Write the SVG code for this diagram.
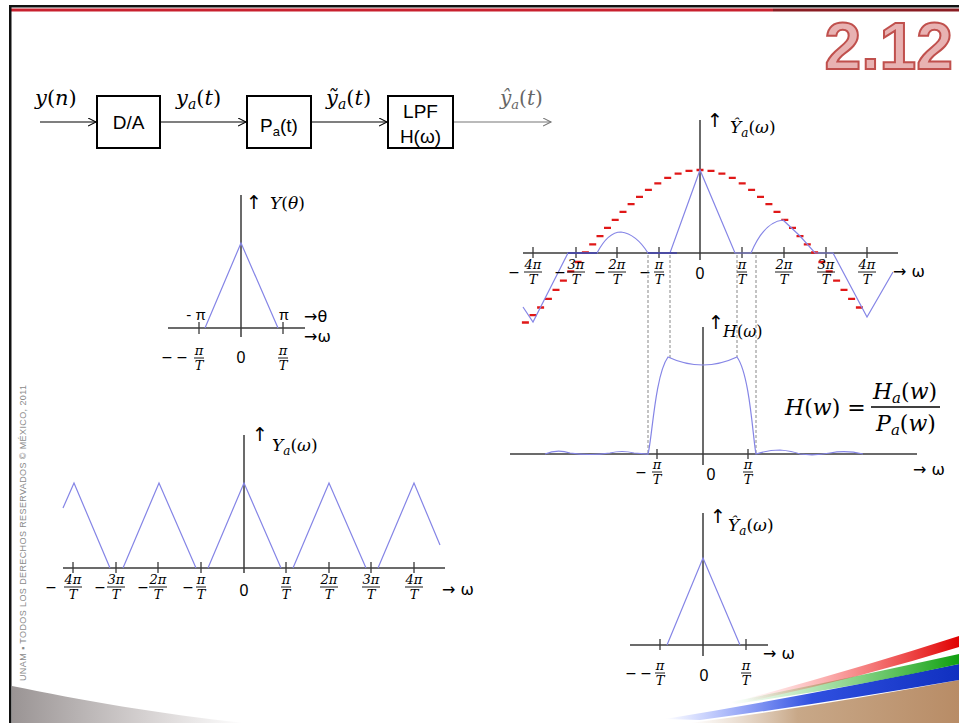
<svg xmlns="http://www.w3.org/2000/svg" width="959" height="723" viewBox="0 0 959 723">
<style>
.ax{stroke:#3a3a3a;stroke-width:1.5;fill:none}
.tk{stroke:#3a3a3a;stroke-width:1.3}
.sig{stroke:#8585e6;stroke-width:1.2;fill:none}
.box{fill:#fff;stroke:#000;stroke-width:2}
.ln{stroke:#000;stroke-width:1.2;fill:none}
.sn{font-family:"Liberation Sans",Arial,sans-serif;fill:#000}
.m{font-family:"DejaVu Serif",serif;fill:#000}
.i{font-style:italic}
.fr{font-family:"DejaVu Serif",serif;font-style:italic;font-size:13px;text-anchor:middle;fill:#000}
.fb{stroke:#000;stroke-width:0.9}
.mn{font-family:"DejaVu Serif",serif;font-size:14px;text-anchor:middle;fill:#000}
.z{font-family:"Liberation Sans",Arial,sans-serif;font-size:16px;text-anchor:middle;fill:#000}
.up{font-family:"DejaVu Sans",sans-serif;font-size:19px;fill:#000}
.ar{font-family:"DejaVu Sans",sans-serif;font-size:16px;fill:#000}
.dl{stroke:#555;stroke-width:0.7;stroke-dasharray:3 2;fill:none}
</style>
<defs>
<marker id="ah" markerWidth="10" markerHeight="10" refX="8" refY="4" orient="auto" markerUnits="userSpaceOnUse"><path d="M0,0 L8,4 L0,8" fill="none" stroke="#000" stroke-width="1.1"/></marker>
<marker id="ahg" markerWidth="10" markerHeight="10" refX="8" refY="4" orient="auto" markerUnits="userSpaceOnUse"><path d="M0,0 L8,4 L0,8" fill="none" stroke="#777" stroke-width="1.1"/></marker>
<g id="f1"><text class="fr" y="-3">π</text><path class="fb" d="M-5,0h10"/><text class="fr" y="12">T</text></g>
<g id="f2"><text class="fr" y="-3">2π</text><path class="fb" d="M-9,0h18"/><text class="fr" y="12">T</text></g>
<g id="f3"><text class="fr" y="-3">3π</text><path class="fb" d="M-9,0h18"/><text class="fr" y="12">T</text></g>
<g id="f4"><text class="fr" y="-3">4π</text><path class="fb" d="M-9,0h18"/><text class="fr" y="12">T</text></g>
<linearGradient id="gl" x1="0" x2="1" y1="0" y2="0"><stop offset="0" stop-color="#9a9494"/><stop offset="0.6" stop-color="#d8d4d4"/><stop offset="1" stop-color="#fff"/></linearGradient>
<linearGradient id="gr" x1="0" x2="1" y1="0" y2="0"><stop offset="0" stop-color="#ff4040" stop-opacity="0"/><stop offset="1" stop-color="#e00000"/></linearGradient>
<linearGradient id="gg" x1="0" x2="1" y1="0" y2="0"><stop offset="0" stop-color="#40c040" stop-opacity="0"/><stop offset="1" stop-color="#10a010"/></linearGradient>
<linearGradient id="gb" x1="0" x2="1" y1="0" y2="0"><stop offset="0" stop-color="#4060ff" stop-opacity="0"/><stop offset="0.5" stop-color="#3050e0"/><stop offset="1" stop-color="#1030c0"/></linearGradient>
<linearGradient id="gt" x1="0" x2="1" y1="0" y2="0"><stop offset="0" stop-color="#d8c0a8" stop-opacity="0"/><stop offset="0.4" stop-color="#c8a888"/><stop offset="1" stop-color="#b88c66"/></linearGradient>
</defs>

<g id="frame">
<rect x="9" y="5" width="950" height="2.5" fill="#111"/>
<rect x="10" y="8.5" width="763" height="3" fill="#c8202e"/>
<rect x="773" y="8.5" width="186" height="3" fill="#8a1c22"/>
<rect x="9" y="5" width="2.5" height="718" fill="#111"/>
<path d="M12,686 C80,700 160,714 245,723 L12,723 Z" fill="url(#gl)"/>
<path d="M690,723 Q820,706 959,680 L959,723 Z" fill="url(#gt)"/>
<path d="M665,719 Q810,695 959,664 L959,680 Q820,704 700,720 Z" fill="url(#gb)"/>
<path d="M730,702 Q850,678 959,654 L959,664 Q850,688 735,704 Z" fill="url(#gg)"/>
<path d="M745,699 Q860,668 959,636 L959,647 Q860,678 750,701 Z" fill="url(#gr)"/>
<text transform="translate(26,681) rotate(-90)" font-family="Liberation Sans,Arial,sans-serif" font-size="9" fill="#8a8a8a" textLength="296" lengthAdjust="spacing">UNAM ▪ TODOS LOS DERECHOS RESERVADOS © MÉXICO, 2011</text>
<text x="953" y="69" text-anchor="end" font-family="Liberation Sans,Arial,sans-serif" font-weight="bold" font-size="66" fill="#e8b2b2" stroke="#c0504d" stroke-width="2">2.12</text>
</g>

<g id="connectors">
<line class="ln" x1="40" y1="122" x2="96" y2="122" marker-end="url(#ah)"/>
<line class="ln" x1="160" y1="122" x2="246" y2="122" marker-end="url(#ah)"/>
<line class="ln" x1="311" y1="122" x2="387" y2="122" marker-end="url(#ah)"/>
<line x1="453" y1="122" x2="551" y2="122" stroke="#777" stroke-width="1.2" marker-end="url(#ahg)"/>
</g>

<g id="lbl-yn"><text class="m" x="35" y="105" font-size="21"><tspan class="i">y</tspan>(<tspan class="i">n</tspan>)</text></g>
<g id="node-da"><rect class="box" x="97" y="96" width="63" height="52"/><text class="sn" x="128.5" y="129" font-size="19" text-anchor="middle">D/A</text></g>
<g id="lbl-ya"><text class="m" x="176" y="105" font-size="21"><tspan class="i">y</tspan><tspan class="i" font-size="14" dy="4">a</tspan><tspan dy="-4">(</tspan><tspan class="i">t</tspan>)</text></g>
<g id="node-pa"><rect class="box" x="247" y="96" width="64" height="52"/><text class="sn" x="279" y="132" font-size="19" text-anchor="middle">P<tspan font-size="13" dy="4">a</tspan><tspan dy="-4">(t)</tspan></text></g>
<g id="lbl-yt"><text class="m" x="326" y="105" font-size="21"><tspan class="i">ỹ</tspan><tspan class="i" font-size="14" dy="4">a</tspan><tspan dy="-4">(</tspan><tspan class="i">t</tspan>)</text></g>
<g id="node-lpf"><rect class="box" x="388" y="96" width="65" height="52"/><text class="sn" x="420.5" y="118" font-size="19" text-anchor="middle">LPF</text><text class="sn" x="420.5" y="143" font-size="19" text-anchor="middle">H(ω)</text></g>
<g id="lbl-yh"><text class="m" x="500" y="105" font-size="20" style="fill:#666"><tspan class="i">ŷ</tspan><tspan class="i" font-size="13" dy="4">a</tspan><tspan dy="-4">(</tspan><tspan class="i">t</tspan>)</text></g>

<g id="plot-Ytheta">
<line class="ax" x1="241" y1="195" x2="241" y2="337"/>
<line class="ax" x1="168" y1="328" x2="305" y2="328"/>
<path class="tk" d="M199,322v12 M283,322v12"/>
<polyline class="sig" points="205,328 241,243 278,328"/>
<text class="up" x="246" y="209">↑</text>
<text class="m" x="270" y="209" font-size="17"><tspan class="i">Y</tspan>(<tspan class="i">θ</tspan>)</text>
<text class="sn" x="196" y="320" font-size="15" text-anchor="middle">- π</text>
<text class="sn" x="284" y="320" font-size="15" text-anchor="middle">π</text>
<text class="ar" x="304" y="322" font-size="12">→θ</text>
<text class="ar" x="304" y="342" font-size="12">→ω</text>
<text class="mn" x="167" y="362">−</text><text class="mn" x="182" y="362">−</text>
<use href="#f1" x="199" y="358"/>
<text class="z" x="241" y="363">0</text>
<use href="#f1" x="283" y="358"/>
</g>

<g id="plot-Ya">
<line class="ax" x1="244" y1="435" x2="244" y2="573"/>
<line class="ax" x1="63" y1="568" x2="445" y2="568"/>
<path class="tk" d="M73,562v11 M116,562v11 M158,562v11 M201,562v11 M286,562v11 M329,562v11 M371,562v11 M414,562v11"/>
<polyline class="sig" points="63,508 74,483 110,568"/>
<polyline class="sig" points="123,568 159,483 196,568"/>
<polyline class="sig" points="208,568 244,483 281,568"/>
<polyline class="sig" points="293,568 329,483 366,568"/>
<polyline class="sig" points="378,568 414,483 440,545"/>
<text class="up" x="252" y="441">↑</text>
<text class="m" x="272" y="451" font-size="17"><tspan class="i">Y</tspan><tspan class="i" font-size="12" dy="4">a</tspan><tspan dy="-4">(</tspan><tspan class="i">ω</tspan>)</text>
<text class="mn" x="51" y="592">−</text><use href="#f4" x="73" y="587"/>
<text class="mn" x="100" y="592">−</text><use href="#f3" x="116" y="587"/>
<text class="mn" x="143" y="592">−</text><use href="#f2" x="158" y="587"/>
<text class="mn" x="188" y="592">−</text><use href="#f1" x="201" y="587"/>
<text class="z" x="244" y="596">0</text>
<use href="#f1" x="286" y="587"/><use href="#f2" x="329" y="587"/><use href="#f3" x="371" y="587"/><use href="#f4" x="414" y="587"/>
<text class="ar" x="442" y="595">→ ω</text>
</g>

<g id="plot-Yhat-top">
<line class="ax" x1="700" y1="120" x2="700" y2="260"/>
<line class="ax" x1="523" y1="253" x2="898" y2="253"/>
<path class="tk" d="M533,247v11 M576,247v11 M617,247v11 M659,247v11 M742,247v11 M784,247v11 M826,247v11 M867,247v11"/>
<path fill="none" stroke="#e01818" stroke-width="2.3" d="M696.5,170h7 M707.5,170.9h7 M718.4,173.7h7 M728.8,177.9h7 M738.7,183.4h7 M748.1,189.8h7 M757,196.8h7 M765.4,204.2h7 M773.5,211.8h7 M781.3,219.8h7 M789,227.9h7 M796.5,236.1h7 M803.8,244.3h7 M811.1,252.5h7 M818.4,262h7 M825.7,271.4h7 M833.1,280.7h7 M840.5,289.8h7 M848.1,298.8h7 M855.9,307.5h7 M685.5,170.9h7 M674.6,173.7h7 M664.2,177.9h7 M654.3,183.4h7 M644.9,189.8h7 M636,196.8h7 M627.6,204.2h7 M619.5,211.8h7 M611.7,219.8h7 M604,227.9h7 M596.5,236.1h7 M589.2,244.3h7 M581.9,252.5h7 M574.6,262h7 M567.3,271.4h7 M559.9,280.7h7 M552.5,289.8h7 M544.9,298.8h7 M537.1,307.5h7 M529.5,315.2h7 M521.9,322.5h7"/>
<path class="sig" d="M523,307 L533,322 L568,253 L597,253 Q608,232 621,232 Q636,234 648,253 L670,253 L700,170 L735,253 L751,253 Q764,222 783,220 L800,236 L815,253 L833,253 L867,317 L893,272"/>
<line x1="648" y1="253" x2="677" y2="253" stroke="#4040a0" stroke-width="1.6"/>
<line x1="568" y1="253" x2="597" y2="253" stroke="#4040a0" stroke-width="1.6"/>
<text class="up" x="707" y="127">↑</text>
<text class="m" x="730" y="133" font-size="17"><tspan class="i">Ŷ</tspan><tspan class="i" font-size="12" dy="4">a</tspan><tspan dy="-4">(</tspan><tspan class="i">ω</tspan>)</text>
<text class="mn" x="514" y="277">−</text><use href="#f4" x="533" y="272"/>
<text class="mn" x="560" y="277">−</text><use href="#f3" x="576" y="272"/>
<text class="mn" x="600" y="277">−</text><use href="#f2" x="617" y="272"/>
<text class="mn" x="645" y="277">−</text><use href="#f1" x="659" y="272"/>
<text class="z" x="700" y="279">0</text>
<use href="#f1" x="742" y="272"/><use href="#f2" x="784" y="272"/><use href="#f3" x="826" y="272"/><use href="#f4" x="867" y="272"/>
<text class="ar" x="893" y="277">→ ω</text>
</g>

<g id="guides">
<path class="dl" d="M648,255V454 M670,255V358 M737,255V357 M756,255V454"/>
</g>

<g id="plot-H">
<line class="ax" x1="703" y1="327" x2="703" y2="465"/>
<line class="ax" x1="510" y1="454" x2="917" y2="454"/>
<path class="tk" d="M657,449v10 M748,449v10"/>
<path class="sig" d="M545,454 Q557,449 570,453 Q590,456 610,453 Q622,450 634,453 L648,454 C652,440 655,375 668,357 Q685,365 703,365 Q720,365 737,357 C750,375 753,440 756,454 Q768,450 780,450 Q792,451 800,454 Q815,456 830,453 Q846,450 863,454"/>
<text class="up" x="708" y="329">↑</text>
<text class="m" x="723" y="337" font-size="16"><tspan class="i">H</tspan>(<tspan class="i">ω</tspan>)</text>
<text class="mn" x="641" y="477">−</text><use href="#f1" x="657" y="472"/>
<text class="z" x="711" y="480">0</text>
<use href="#f1" x="748" y="472"/>
<text class="ar" x="913" y="475">→ ω</text>
<text class="m" x="785" y="415" font-size="22"><tspan class="i">H</tspan>(<tspan class="i">w</tspan>) =</text>
<text class="m" x="905" y="399" font-size="22" text-anchor="middle"><tspan class="i">H</tspan><tspan class="i" font-size="15" dy="4">a</tspan><tspan dy="-4">(</tspan><tspan class="i">w</tspan>)</text>
<line x1="871" y1="407" x2="940" y2="407" stroke="#000" stroke-width="1.3"/>
<text class="m" x="906" y="431" font-size="22" text-anchor="middle"><tspan class="i">P</tspan><tspan class="i" font-size="15" dy="4">a</tspan><tspan dy="-4">(</tspan><tspan class="i">w</tspan>)</text>
</g>

<g id="plot-Yhat-bottom">
<line class="ax" x1="703" y1="513" x2="703" y2="656"/>
<line class="ax" x1="630" y1="645" x2="768" y2="645"/>
<path class="tk" d="M660,639v11 M746,639v11"/>
<polyline class="sig" points="667,645 703,558 740,645"/>
<text class="up" x="710" y="523">↑</text>
<text class="m" x="728" y="531" font-size="17"><tspan class="i">Ŷ</tspan><tspan class="i" font-size="12" dy="4">a</tspan><tspan dy="-4">(</tspan><tspan class="i">ω</tspan>)</text>
<text class="mn" x="631" y="678">−</text><text class="mn" x="646" y="678">−</text>
<use href="#f1" x="660" y="673"/>
<text class="z" x="704" y="681">0</text>
<use href="#f1" x="746" y="673"/>
<text class="ar" x="763" y="659">→ ω</text>
</g>
</svg>
